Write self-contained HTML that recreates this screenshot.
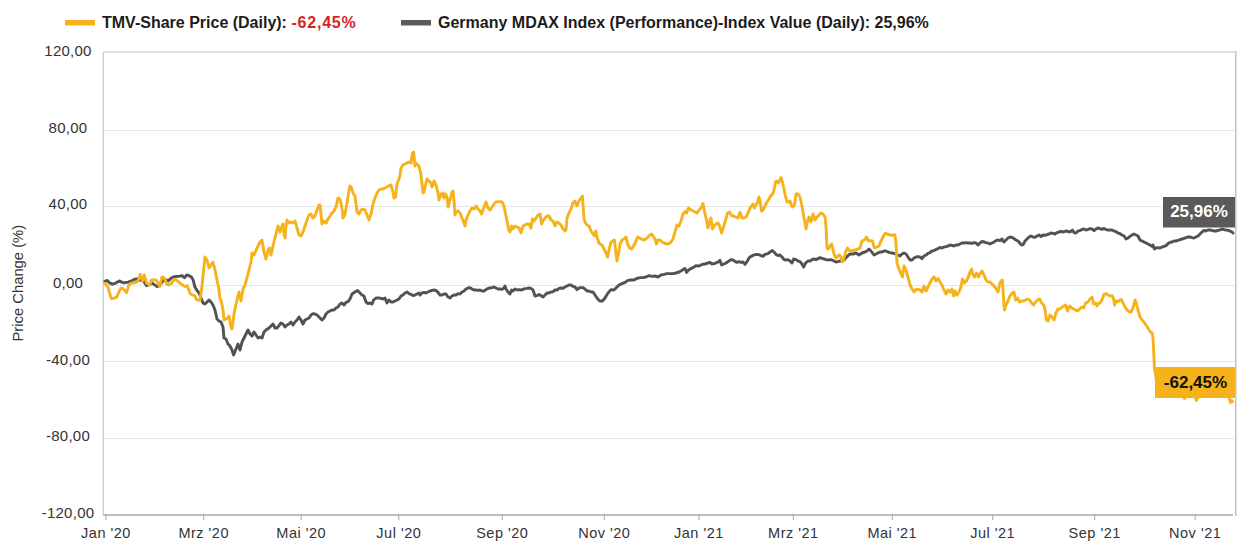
<!DOCTYPE html>
<html><head><meta charset="utf-8"><title>TMV vs MDAX</title>
<style>
html,body{margin:0;padding:0;background:#fff;}
body{width:1252px;height:560px;overflow:hidden;}
svg{display:block;}
text{font-family:"Liberation Sans",Arial,sans-serif;}
.xl{font-size:14.5px;fill:#333333;letter-spacing:0.5px;}
.yl{font-size:15px;fill:#333333;letter-spacing:0.25px;}
.yt{font-size:14.8px;fill:#333333;}
.el{font-size:17px;font-weight:700;}
.lg{font-size:16px;font-weight:700;fill:#1c1c1c;}
</style></head><body>
<svg width="1252" height="560" viewBox="0 0 1252 560">
<rect x="0" y="0" width="1252" height="560" fill="#fff"/>
<rect x="103" y="130" width="1132" height="1" fill="#e6e6e6"/>
<rect x="103" y="206" width="1132" height="1" fill="#e6e6e6"/>
<rect x="103" y="285" width="1132" height="1" fill="#e6e6e6"/>
<rect x="103" y="361" width="1132" height="1" fill="#e6e6e6"/>
<rect x="103" y="438" width="1132" height="1" fill="#e6e6e6"/>
<rect x="103" y="51" width="1132" height="2" fill="#e2e2e2"/>
<rect x="102" y="52" width="1" height="463" fill="#e8e8f3"/>
<rect x="103" y="52" width="1" height="463" fill="#cdcde3"/>
<rect x="1235" y="51" width="1.5" height="465" fill="#c4c4c4"/>
<rect x="103" y="514" width="1130" height="2" fill="#bdbdbd"/>
<rect x="105.5" y="514" width="1" height="6" fill="#a8a8a8"/>
<text x="106.0" y="538" text-anchor="middle" class="xl">Jan '20</text>
<rect x="203.2" y="514" width="1" height="6" fill="#a8a8a8"/>
<text x="203.7" y="538" text-anchor="middle" class="xl">Mrz '20</text>
<rect x="300.7" y="514" width="1" height="6" fill="#a8a8a8"/>
<text x="301.2" y="538" text-anchor="middle" class="xl">Mai '20</text>
<rect x="398.3" y="514" width="1" height="6" fill="#a8a8a8"/>
<text x="398.8" y="538" text-anchor="middle" class="xl">Jul '20</text>
<rect x="501.8" y="514" width="1" height="6" fill="#a8a8a8"/>
<text x="502.3" y="538" text-anchor="middle" class="xl">Sep '20</text>
<rect x="603.8" y="514" width="1" height="6" fill="#a8a8a8"/>
<text x="604.3" y="538" text-anchor="middle" class="xl">Nov '20</text>
<rect x="698.4" y="514" width="1" height="6" fill="#a8a8a8"/>
<text x="698.9" y="538" text-anchor="middle" class="xl">Jan '21</text>
<rect x="792.9" y="514" width="1" height="6" fill="#a8a8a8"/>
<text x="793.4" y="538" text-anchor="middle" class="xl">Mrz '21</text>
<rect x="891.8" y="514" width="1" height="6" fill="#a8a8a8"/>
<text x="892.3" y="538" text-anchor="middle" class="xl">Mai '21</text>
<rect x="992.2" y="514" width="1" height="6" fill="#a8a8a8"/>
<text x="992.7" y="538" text-anchor="middle" class="xl">Jul '21</text>
<rect x="1094.2" y="514" width="1" height="6" fill="#a8a8a8"/>
<text x="1094.7" y="538" text-anchor="middle" class="xl">Sep '21</text>
<rect x="1194.7" y="514" width="1" height="6" fill="#a8a8a8"/>
<text x="1195.2" y="538" text-anchor="middle" class="xl">Nov '21</text>
<text x="68" y="56.3" text-anchor="middle" class="yl">120,00</text>
<text x="68" y="133.3" text-anchor="middle" class="yl">80,00</text>
<text x="68" y="209.3" text-anchor="middle" class="yl">40,00</text>
<text x="68" y="287.6" text-anchor="middle" class="yl">0,00</text>
<text x="68" y="365.2" text-anchor="middle" class="yl">-40,00</text>
<text x="68" y="441.0" text-anchor="middle" class="yl">-80,00</text>
<text x="68" y="518.4" text-anchor="middle" class="yl">-120,00</text>
<text transform="translate(23.4,283.2) rotate(-90)" text-anchor="middle" class="yt">Price Change (%)</text>
<path d="M104.8,281.3 L107.2,280.5 L109.6,282.9 L112.1,284.1 L115.3,283.3 L119.3,280.9 L121.7,282.1 L124.1,282.9 L128.1,282.1 L132.2,280.5 L134.6,279.3 L137.0,278.9 L140.2,280.1 L143.4,280.9 L146.6,285.7 L149.8,284.5 L152.3,283.3 L154.7,284.9 L157.1,286.5 L159.5,285.7 L161.9,282.5 L164.3,279.3 L166.7,280.1 L168.3,280.9 L170.7,278.5 L173.2,276.9 L176.4,276.5 L179.6,276.1 L182.0,275.7 L184.4,277.7 L186.8,274.9 L189.2,275.7 L191.6,277.3 L193.2,280.1 L194.9,286.9 L196.5,289.7 L199.0,293.0 L201.0,298.0 L203.0,303.0 L205.0,304.0 L207.0,302.0 L209.0,300.0 L211.0,302.0 L213.0,305.0 L215.0,310.0 L217.0,319.0 L219.0,321.0 L221.0,322.0 L223.0,327.0 L224.0,338.0 L226.0,339.0 L228.0,344.0 L230.0,346.0 L232.0,350.0 L233.6,355.0 L236.0,349.0 L238.0,344.0 L240.0,350.0 L242.0,342.0 L244.0,338.0 L246.0,334.0 L248.0,330.0 L250.0,334.0 L252.0,336.0 L254.0,332.0 L256.0,335.0 L258.0,338.0 L260.0,337.0 L262.0,338.0 L264.0,332.0 L266.0,330.0 L269.0,328.0 L271.0,326.0 L273.0,324.0 L275.0,328.0 L277.0,328.0 L279.0,325.6 L281.0,323.0 L283.0,324.0 L285.0,327.0 L287.0,325.0 L289.0,324.0 L291.0,322.0 L293.0,325.0 L295.0,322.0 L297.0,320.0 L299.0,317.0 L301.0,320.0 L303.0,324.0 L305.0,320.0 L307.0,319.0 L309.0,318.0 L311.0,315.0 L313.0,313.6 L315.0,314.0 L317.0,315.0 L319.0,317.0 L322.0,320.0 L324.0,318.0 L326.0,314.0 L328.0,312.0 L330.0,311.0 L332.0,310.0 L334.0,310.0 L336.0,308.0 L338.0,307.0 L340.0,304.0 L342.0,303.0 L344.0,305.0 L346.0,302.4 L348.0,301.6 L350.0,299.0 L352.0,294.0 L355.0,292.0 L357.6,290.4 L360.0,293.0 L362.0,295.0 L364.0,296.0 L366.0,302.0 L368.0,303.6 L370.0,303.0 L372.0,304.0 L373.6,300.0 L376.0,298.0 L379.0,298.0 L381.0,298.4 L383.0,299.0 L385.0,298.0 L387.0,303.0 L389.0,300.0 L391.0,302.0 L393.0,302.0 L395.0,301.0 L397.0,300.0 L399.0,299.0 L401.0,296.0 L403.0,295.0 L405.0,293.0 L407.0,292.0 L409.0,293.6 L411.0,294.4 L413.0,295.6 L415.0,295.0 L417.0,294.0 L419.0,293.0 L420.0,295.0 L422.0,293.0 L424.0,292.4 L426.0,293.0 L428.0,292.0 L430.0,291.0 L432.0,290.4 L434.0,290.0 L436.0,290.4 L438.0,292.4 L440.0,295.0 L442.0,295.0 L444.0,294.0 L446.0,294.0 L448.0,297.0 L450.0,298.0 L452.0,296.0 L454.0,295.0 L456.0,295.0 L458.0,293.6 L460.0,294.0 L462.0,292.0 L464.0,291.0 L466.0,289.0 L468.0,288.0 L470.0,287.6 L472.0,289.0 L474.0,290.0 L476.0,290.0 L478.0,290.4 L480.0,290.0 L482.0,291.0 L484.0,291.0 L486.0,289.6 L488.0,288.4 L490.0,288.0 L492.0,287.6 L494.0,287.0 L496.0,288.0 L498.0,289.0 L500.0,289.0 L502.0,289.4 L504.0,288.0 L505.0,286.0 L506.0,289.0 L508.0,292.0 L510.0,294.0 L511.6,290.0 L513.0,291.0 L515.0,289.0 L517.0,290.0 L519.0,289.6 L521.0,290.0 L523.0,289.4 L525.0,288.6 L527.0,288.4 L529.0,288.0 L531.0,288.4 L533.0,290.0 L535.0,296.0 L537.0,295.6 L539.0,294.4 L541.0,295.6 L543.0,297.0 L545.0,295.0 L547.0,293.0 L549.0,293.0 L551.0,292.0 L553.0,291.6 L555.0,290.0 L557.0,290.0 L559.0,288.4 L561.0,288.0 L563.0,288.4 L565.0,287.0 L567.0,286.0 L569.0,285.0 L571.0,285.0 L573.0,286.4 L575.0,287.0 L577.0,289.6 L579.0,288.0 L581.0,287.6 L583.0,287.6 L585.0,289.0 L587.0,291.0 L589.0,291.0 L591.0,292.0 L593.0,292.0 L595.0,295.0 L597.0,298.0 L599.0,300.4 L600.0,301.0 L602.4,301.0 L605.0,298.0 L608.0,293.0 L611.0,289.6 L614.0,290.0 L616.0,288.0 L619.0,285.0 L622.0,283.6 L625.0,282.4 L628.0,280.4 L631.0,280.0 L634.0,280.0 L637.0,278.4 L640.0,277.6 L643.0,277.6 L646.0,277.0 L649.0,275.6 L652.0,276.4 L655.0,276.0 L658.0,277.0 L661.0,275.0 L664.0,274.4 L667.0,273.6 L670.0,273.6 L673.0,273.6 L676.0,273.0 L679.0,272.0 L681.0,271.0 L683.0,269.6 L685.0,268.4 L686.6,272.4 L688.6,270.0 L691.0,268.6 L694.0,267.0 L696.0,265.6 L698.0,266.0 L700.0,265.6 L702.0,264.4 L705.0,264.0 L708.0,263.0 L710.0,262.4 L712.0,264.0 L715.0,263.4 L718.0,262.0 L720.0,260.4 L721.6,265.0 L724.0,264.0 L727.0,262.4 L729.0,261.0 L731.0,259.6 L733.0,260.0 L735.0,261.4 L737.0,262.4 L739.0,261.6 L741.0,262.4 L743.0,262.0 L745.0,264.4 L747.0,261.6 L749.0,258.0 L751.0,256.4 L753.0,255.4 L756.0,254.4 L759.0,254.6 L761.0,255.6 L763.0,256.4 L765.0,254.4 L768.0,253.6 L770.0,252.0 L772.4,250.6 L774.0,252.0 L776.0,254.4 L778.0,255.6 L780.0,255.0 L782.0,257.0 L784.0,259.6 L786.0,260.0 L788.0,259.6 L790.0,261.0 L792.0,263.0 L793.6,259.0 L796.0,259.6 L798.0,261.0 L800.0,261.6 L802.0,264.0 L803.6,267.0 L805.6,263.0 L808.0,261.0 L810.0,261.0 L812.0,259.6 L814.0,259.0 L816.0,259.6 L818.0,258.6 L820.0,257.6 L822.0,258.4 L824.0,259.0 L826.0,259.6 L828.0,260.0 L830.0,259.6 L832.0,260.0 L834.0,261.0 L836.0,262.0 L838.0,261.6 L840.0,261.0 L842.0,260.4 L844.0,260.0 L846.0,257.6 L848.0,255.6 L850.0,254.0 L853.0,254.0 L856.0,253.0 L859.0,255.0 L862.0,253.0 L865.0,252.0 L867.0,251.0 L869.0,249.0 L871.0,251.0 L874.0,255.0 L876.0,254.0 L878.0,253.0 L880.0,252.0 L882.0,252.0 L884.0,251.0 L886.0,251.0 L888.0,252.0 L890.0,252.6 L892.0,253.0 L894.0,253.4 L896.0,254.0 L898.0,255.0 L900.0,256.0 L902.0,254.0 L904.0,253.0 L906.0,254.0 L908.0,257.0 L910.0,260.0 L912.0,260.0 L914.0,258.0 L916.0,257.0 L918.0,256.6 L920.0,257.0 L922.0,258.6 L924.0,256.0 L926.0,255.0 L928.0,253.4 L930.0,252.6 L932.0,251.0 L934.0,250.6 L936.0,249.4 L938.0,248.6 L940.0,247.4 L942.0,248.0 L944.0,247.0 L946.0,246.6 L948.0,246.0 L950.0,245.0 L952.0,245.4 L954.0,246.0 L956.0,245.0 L958.0,245.0 L960.0,244.0 L962.0,243.0 L964.0,243.0 L966.0,242.6 L968.0,243.0 L970.0,243.0 L972.0,243.4 L974.0,242.6 L976.0,243.0 L978.0,245.0 L980.0,243.0 L982.0,241.4 L984.0,242.0 L986.0,242.6 L988.0,243.0 L990.0,244.0 L992.0,243.0 L994.0,242.0 L996.0,240.6 L998.0,240.0 L1000.0,240.6 L1002.0,239.0 L1003.0,241.0 L1004.0,242.0 L1006.0,240.0 L1008.0,238.0 L1010.0,237.0 L1012.0,237.4 L1014.0,238.6 L1016.0,240.0 L1018.0,241.0 L1020.0,243.4 L1021.6,245.0 L1023.2,244.6 L1025.0,241.0 L1027.0,239.0 L1029.0,237.0 L1031.0,236.0 L1033.0,237.0 L1035.0,237.4 L1037.0,236.0 L1039.0,235.0 L1041.0,236.6 L1043.0,235.0 L1045.0,235.4 L1047.0,234.6 L1049.0,234.0 L1051.0,233.0 L1053.0,233.4 L1055.0,234.0 L1057.0,232.6 L1059.0,232.0 L1061.0,231.4 L1063.0,232.0 L1065.0,231.4 L1067.0,231.0 L1069.0,232.0 L1071.0,231.4 L1072.4,230.0 L1074.0,232.6 L1076.0,233.0 L1078.0,231.0 L1080.0,230.6 L1082.0,229.4 L1084.0,229.0 L1086.0,230.0 L1088.0,229.4 L1090.0,228.6 L1092.0,229.0 L1094.0,230.6 L1096.0,229.0 L1098.0,228.0 L1100.0,228.6 L1102.0,229.4 L1104.0,228.4 L1106.0,229.6 L1108.0,230.0 L1110.0,230.0 L1112.0,230.0 L1114.0,231.0 L1116.0,231.6 L1118.0,233.0 L1120.0,233.6 L1122.0,235.0 L1124.0,236.0 L1126.0,239.0 L1128.0,238.0 L1130.0,236.4 L1132.0,235.0 L1134.0,234.0 L1136.0,235.0 L1138.0,236.0 L1140.0,240.0 L1142.0,241.0 L1144.0,242.0 L1146.0,243.0 L1148.0,244.0 L1150.0,245.0 L1152.0,246.4 L1153.0,245.0 L1154.4,249.0 L1156.0,248.0 L1158.0,247.6 L1160.0,248.0 L1162.0,247.0 L1164.0,246.4 L1166.0,245.6 L1168.0,243.6 L1170.0,242.4 L1172.0,242.0 L1174.0,241.0 L1176.0,241.0 L1178.0,240.4 L1180.0,239.6 L1182.0,239.0 L1184.0,238.4 L1186.0,237.6 L1188.0,237.0 L1190.0,237.0 L1192.0,237.6 L1194.0,238.0 L1196.0,237.0 L1198.0,236.0 L1200.0,234.0 L1202.0,232.0 L1204.0,230.4 L1206.0,231.0 L1208.0,230.0 L1210.0,230.0 L1212.0,230.4 L1214.0,231.0 L1216.0,231.0 L1218.0,230.4 L1220.0,230.0 L1222.0,229.0 L1224.0,229.6 L1226.0,230.0 L1228.0,230.4 L1230.0,231.0 L1232.0,232.0 L1233.0,233.0" fill="none" stroke="#525252" stroke-width="2.9" stroke-linejoin="round" stroke-linecap="round"/>
<path d="M104.8,283.3 L107.6,286.5 L111.3,298.6 L113.7,298.2 L116.5,297.4 L118.9,292.2 L120.9,288.1 L122.9,288.5 L124.1,289.7 L126.5,292.6 L127.7,288.9 L128.9,284.9 L130.9,283.3 L133.0,282.9 L135.4,282.5 L137.4,281.7 L138.6,279.3 L140.2,274.5 L141.4,278.1 L142.6,280.9 L144.2,274.9 L145.4,278.9 L146.6,283.3 L148.2,284.1 L149.8,284.9 L151.4,280.1 L153.9,279.7 L156.3,280.1 L158.3,283.3 L159.9,286.5 L161.9,277.3 L163.5,277.3 L165.1,279.3 L166.7,284.1 L169.1,284.9 L171.5,283.3 L174.0,279.3 L176.4,280.1 L178.8,282.1 L181.2,284.1 L183.6,285.7 L185.2,286.5 L187.2,285.7 L188.4,288.9 L190.4,293.8 L192.4,295.0 L194.5,295.4 L196.5,299.4 L198.1,300.2 L200.0,300.0 L202.0,286.0 L204.0,266.0 L205.0,257.0 L207.0,260.0 L209.0,268.0 L211.0,265.0 L213.0,262.0 L215.0,270.0 L217.0,280.0 L219.0,290.0 L220.0,299.0 L221.0,300.0 L223.0,310.0 L224.0,320.0 L226.0,319.0 L228.0,318.0 L229.0,316.0 L231.0,327.0 L232.0,329.0 L233.0,322.0 L234.0,314.0 L236.0,304.0 L238.0,296.0 L239.0,292.0 L241.0,301.0 L243.0,289.0 L245.0,285.0 L247.0,278.0 L249.0,270.0 L251.0,262.0 L252.0,253.0 L254.0,255.0 L257.0,248.0 L260.0,242.0 L262.0,240.0 L264.0,252.0 L266.0,259.0 L268.0,250.0 L269.6,248.0 L271.0,255.0 L273.0,246.0 L275.0,238.0 L277.0,230.0 L278.0,226.0 L280.0,232.0 L282.0,226.0 L283.0,224.0 L284.0,234.0 L285.0,238.0 L286.0,226.0 L287.0,220.0 L289.0,223.0 L291.0,222.0 L293.0,223.0 L295.0,221.0 L297.0,228.0 L299.0,235.0 L301.0,236.0 L303.0,232.0 L305.0,226.0 L307.0,220.0 L309.0,215.0 L311.0,214.0 L313.0,218.0 L315.0,216.0 L317.0,210.0 L319.0,205.0 L320.0,205.0 L321.0,214.0 L322.0,224.0 L324.0,221.0 L326.0,223.0 L328.0,219.0 L330.0,216.0 L332.0,213.0 L334.0,211.0 L336.0,207.0 L338.0,198.0 L340.0,199.0 L342.0,208.0 L343.0,218.0 L345.0,214.0 L347.0,203.0 L349.0,190.0 L350.0,186.0 L351.6,188.0 L353.0,193.0 L355.0,196.0 L357.0,212.0 L359.0,214.0 L361.0,210.0 L363.0,209.0 L365.0,210.0 L367.0,215.0 L369.0,220.0 L371.0,214.0 L373.0,204.0 L375.0,198.0 L377.0,193.0 L379.0,190.0 L381.0,189.0 L383.0,189.0 L385.0,188.0 L387.0,187.0 L389.0,185.6 L391.0,185.0 L393.0,192.0 L394.0,198.0 L395.6,197.0 L397.0,184.0 L399.0,179.0 L400.0,175.0 L401.0,168.0 L403.0,165.0 L405.0,164.0 L407.0,163.0 L409.0,162.0 L411.0,163.0 L412.4,153.0 L413.6,152.0 L415.0,166.0 L416.0,163.0 L418.0,165.0 L419.0,166.0 L421.0,175.0 L422.0,184.0 L423.0,193.0 L424.0,192.0 L426.0,183.0 L427.0,179.0 L429.0,181.0 L431.0,183.0 L432.0,187.0 L434.0,181.0 L436.0,185.0 L437.6,191.0 L439.0,200.0 L440.4,194.0 L442.0,196.0 L443.0,193.0 L444.0,198.0 L445.6,194.0 L447.0,197.0 L448.0,207.0 L450.0,200.0 L452.0,192.0 L453.0,191.0 L454.0,200.0 L455.0,215.0 L456.0,212.0 L458.0,211.0 L460.0,213.0 L462.0,218.0 L463.6,222.0 L465.0,226.0 L466.0,220.0 L468.0,215.0 L470.0,211.0 L472.0,208.0 L474.0,209.0 L476.0,206.0 L478.0,209.0 L480.0,211.0 L481.6,214.0 L483.6,208.0 L486.0,202.0 L488.0,208.0 L490.0,210.0 L492.0,207.0 L494.0,204.0 L496.0,202.0 L498.0,201.6 L500.0,201.6 L502.0,202.0 L503.6,205.0 L505.0,211.0 L507.0,221.0 L509.0,231.0 L510.0,232.0 L511.6,226.0 L513.0,229.0 L515.0,226.0 L517.0,227.0 L519.0,228.0 L521.0,233.0 L523.0,226.0 L525.0,225.0 L527.0,224.0 L529.0,224.0 L531.0,228.0 L532.4,219.0 L534.0,221.0 L536.0,218.0 L538.0,215.0 L540.0,214.0 L541.6,224.0 L543.0,221.0 L545.0,218.0 L547.0,216.0 L549.0,216.0 L551.0,220.0 L553.0,221.0 L555.0,226.0 L557.0,222.0 L559.0,223.0 L561.0,225.0 L563.0,229.0 L565.0,231.0 L566.0,230.0 L567.0,218.0 L569.0,213.0 L571.0,209.0 L573.0,203.0 L575.0,201.0 L577.0,206.0 L579.0,201.0 L581.0,198.0 L582.4,196.0 L584.0,218.0 L585.0,222.0 L587.0,225.0 L589.0,226.0 L591.0,231.0 L593.0,234.0 L594.4,236.0 L595.6,231.0 L597.0,237.0 L599.0,243.0 L600.0,244.0 L602.0,245.0 L604.0,249.0 L606.0,253.0 L607.6,257.0 L609.0,250.0 L611.0,242.0 L613.0,241.0 L614.4,240.0 L615.6,250.0 L617.0,261.0 L618.4,254.0 L620.0,244.0 L622.0,240.0 L624.0,239.0 L626.0,237.0 L627.6,244.0 L629.6,248.0 L631.6,249.0 L633.6,246.0 L635.6,242.0 L637.6,237.0 L639.6,238.0 L641.6,239.0 L643.6,240.0 L646.0,239.0 L648.0,237.0 L650.0,235.0 L651.6,234.0 L653.0,236.0 L655.0,239.0 L656.4,244.0 L658.0,240.0 L660.0,240.0 L662.0,242.0 L664.0,243.0 L667.0,244.0 L669.0,243.6 L671.0,242.0 L673.0,239.0 L675.0,232.0 L677.0,225.0 L679.0,226.0 L681.0,221.0 L683.0,214.0 L685.0,211.6 L686.6,213.0 L688.6,208.0 L691.0,210.0 L693.0,211.0 L695.0,212.0 L697.0,213.0 L699.0,210.0 L701.0,208.0 L703.0,203.6 L704.6,212.0 L706.0,218.0 L708.0,228.0 L710.0,220.0 L711.0,218.0 L712.4,229.0 L714.0,226.0 L716.0,224.0 L718.0,223.0 L719.6,226.0 L721.6,233.0 L723.6,227.0 L725.6,220.0 L727.6,213.0 L729.6,212.0 L731.6,215.6 L733.6,216.0 L735.6,217.0 L738.0,218.0 L740.0,212.4 L742.0,218.0 L744.0,218.0 L746.0,217.0 L748.0,213.0 L750.0,208.0 L751.6,206.0 L753.0,204.0 L754.4,208.0 L756.0,205.0 L757.6,202.0 L759.0,197.0 L760.0,201.0 L761.6,211.0 L763.0,210.0 L765.0,206.0 L767.0,202.0 L769.0,199.0 L770.6,196.0 L772.0,195.0 L773.6,192.0 L775.6,182.0 L777.0,181.0 L778.6,183.0 L781.0,177.6 L782.4,182.0 L784.0,189.0 L785.6,197.0 L787.0,202.0 L788.6,202.0 L790.0,201.0 L791.6,206.0 L793.0,207.0 L794.4,205.0 L796.0,194.0 L798.0,194.0 L800.0,197.0 L802.0,206.0 L804.0,218.0 L806.0,229.0 L807.6,221.0 L809.0,217.0 L811.0,222.0 L813.0,214.0 L815.0,220.0 L817.0,217.0 L819.0,215.0 L821.0,213.0 L823.0,214.0 L825.0,217.0 L826.0,226.0 L827.0,248.0 L828.4,249.0 L830.0,246.0 L831.6,244.0 L833.0,250.0 L834.4,255.0 L836.0,258.0 L838.0,256.0 L839.6,255.0 L841.0,257.0 L842.4,262.0 L844.0,258.0 L845.6,252.0 L847.6,248.0 L849.0,250.0 L850.0,251.0 L852.0,250.6 L855.0,250.0 L858.0,249.0 L860.0,248.0 L862.0,241.0 L864.4,240.0 L866.4,237.0 L868.4,241.0 L870.4,240.6 L872.4,241.0 L874.4,248.0 L877.0,247.0 L879.0,246.0 L881.0,241.0 L883.0,237.0 L885.0,233.4 L887.0,234.0 L889.0,234.6 L891.0,235.4 L893.0,235.0 L895.0,235.0 L896.0,243.0 L897.0,263.0 L899.0,269.0 L901.0,274.0 L902.4,277.0 L904.0,266.0 L906.0,270.0 L908.0,277.0 L910.0,285.0 L912.0,289.0 L914.0,292.0 L916.0,289.4 L918.0,289.4 L920.0,290.0 L922.0,292.0 L924.0,286.0 L926.0,291.0 L928.0,287.0 L930.0,283.0 L932.0,279.0 L934.0,277.0 L936.0,281.0 L938.0,278.6 L940.0,282.0 L942.0,285.0 L944.0,290.0 L946.0,294.0 L948.0,290.0 L950.0,292.0 L952.0,289.0 L953.6,296.0 L955.0,291.0 L957.0,295.0 L959.0,292.0 L961.0,287.0 L962.4,279.0 L964.4,283.0 L966.4,281.0 L968.4,277.0 L970.0,272.0 L971.6,269.0 L973.0,275.0 L974.4,277.0 L976.4,273.0 L978.4,277.0 L980.0,274.0 L982.0,271.0 L984.0,275.0 L986.0,280.0 L988.0,282.0 L990.0,282.0 L992.0,284.0 L994.0,286.0 L996.0,288.6 L998.0,292.0 L999.6,284.0 L1001.0,281.0 L1002.4,280.0 L1003.6,299.0 L1004.4,310.0 L1006.0,305.0 L1008.0,301.0 L1010.0,296.0 L1012.4,293.0 L1014.0,292.0 L1015.6,300.0 L1017.6,298.0 L1019.6,302.0 L1021.6,301.0 L1023.6,301.0 L1025.6,300.0 L1027.6,299.0 L1029.6,300.0 L1031.6,303.0 L1033.6,305.0 L1035.6,302.0 L1037.6,300.0 L1039.6,299.0 L1041.6,303.0 L1043.6,305.0 L1045.0,309.0 L1046.4,320.0 L1048.0,321.0 L1050.0,315.0 L1052.0,317.0 L1054.0,320.0 L1056.0,313.0 L1058.0,309.0 L1060.0,309.0 L1062.0,307.0 L1064.0,306.0 L1065.6,305.0 L1067.6,311.0 L1069.6,306.0 L1071.6,308.0 L1073.6,309.0 L1075.6,310.0 L1077.6,311.0 L1079.6,309.0 L1081.6,307.0 L1083.6,308.0 L1085.6,303.0 L1088.0,302.0 L1090.0,299.0 L1092.0,297.0 L1093.6,304.0 L1095.6,303.0 L1097.0,306.0 L1099.0,303.0 L1100.0,303.0 L1102.0,300.0 L1104.0,294.4 L1106.0,293.6 L1108.0,295.0 L1110.0,296.0 L1112.0,295.6 L1113.4,298.0 L1114.6,305.0 L1116.0,301.0 L1118.0,301.6 L1120.0,300.0 L1121.4,299.6 L1123.0,303.0 L1125.0,307.0 L1127.0,310.0 L1129.0,311.6 L1131.0,312.0 L1133.0,308.0 L1135.0,300.0 L1136.0,302.0 L1138.0,310.0 L1140.0,317.0 L1142.0,320.0 L1144.0,322.0 L1146.0,325.0 L1148.0,328.0 L1150.0,331.6 L1152.0,333.0 L1153.0,338.0 L1153.6,350.0 L1154.4,368.0 L1155.6,374.0 L1157.0,386.0 L1159.0,392.0 L1162.0,393.0 L1166.0,394.0 L1170.0,395.0 L1174.0,394.4 L1178.0,395.6 L1182.0,395.5 L1184.5,398.5 L1187.0,395.5 L1192.0,396.0 L1195.0,397.0 L1196.5,400.5 L1198.0,397.0 L1204.0,396.0 L1210.0,396.2 L1216.0,396.0 L1222.0,395.8 L1226.0,396.2 L1229.0,397.0 L1230.3,402.5 L1231.5,400.5 L1232.5,401.5" fill="none" stroke="#F5B21B" stroke-width="2.9" stroke-linejoin="round" stroke-linecap="round"/>
<rect x="1163" y="197" width="72" height="30.5" fill="#5a5a5a"/>
<text x="1199" y="217" text-anchor="middle" class="el" fill="#fff">25,96%</text>
<rect x="1155" y="367" width="80" height="31" fill="#F5B21B"/>
<text x="1195.5" y="388" text-anchor="middle" class="el" fill="#111">-62,45%</text>
<rect x="65" y="20" width="30" height="5.5" fill="#F5B21B"/>
<text x="102" y="27.8" class="lg">TMV-Share Price (Daily): <tspan fill="#DA1F26" letter-spacing="0.8">-62,45%</tspan></text>
<rect x="401" y="20" width="30" height="5.5" fill="#5a5a5a"/>
<text x="438" y="27.8" class="lg">Germany MDAX Index (Performance)-Index Value (Daily): 25,96%</text>
</svg>
</body></html>
